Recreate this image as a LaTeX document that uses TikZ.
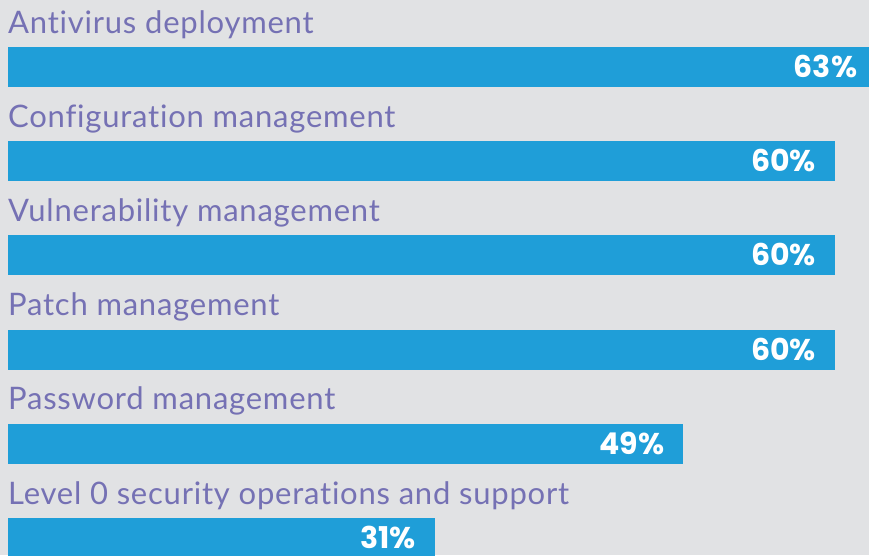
\documentclass[tikz,border=0pt]{standalone}
\usepackage{fontspec}
\setmainfont[Ligatures={NoCommon},LetterSpace=2.5]{Lato}
\newfontfamily\pctfont{Poppins}
\definecolor{bgc}{HTML}{E1E2E4}
\definecolor{barc}{HTML}{1F9ED8}
\definecolor{labc}{HTML}{7571B4}
\tikzset{
  barbox/.style={fill=barc, draw=none},
  lab/.style={anchor=base west, inner sep=0pt, text=labc, font=\fontsize{31}{31}\selectfont},
  pct/.style={anchor=base east, inner sep=0pt, text depth=0pt, text=white, font=\pctfont\bfseries\fontsize{30}{30}\selectfont},
}
\begin{document}
\begin{tikzpicture}[x=1pt,y=-1pt]
\useasboundingbox (0,0) rectangle (869,555);
\fill[bgc] (0,0) rectangle (869,555);
\begin{scope}
\clip (0,0) rectangle (869,555);
\foreach \i/\name/\v/\txt in {0/Antivirus deployment/63/a, 1/Configuration management/60/b, 2/Vulnerability management/60/c, 3/Patch management/60/d, 4/Password management/49/e, 5/Level 0 security operations and support/31/f}{
  \pgfmathsetmacro{\btop}{47+94.2*\i}
  \pgfmathsetmacro{\blen}{827/60*\v}
  \node[lab] (lab\txt) at (8,\btop-14) {\name};
  \path[barbox] (8,\btop) rectangle ++(\blen,40) coordinate (end\txt);
  \node[pct] (pct\txt) at (8+\blen-19,\btop+30.5) {\v\%};
}
\end{scope}
\end{tikzpicture}
\end{document}
